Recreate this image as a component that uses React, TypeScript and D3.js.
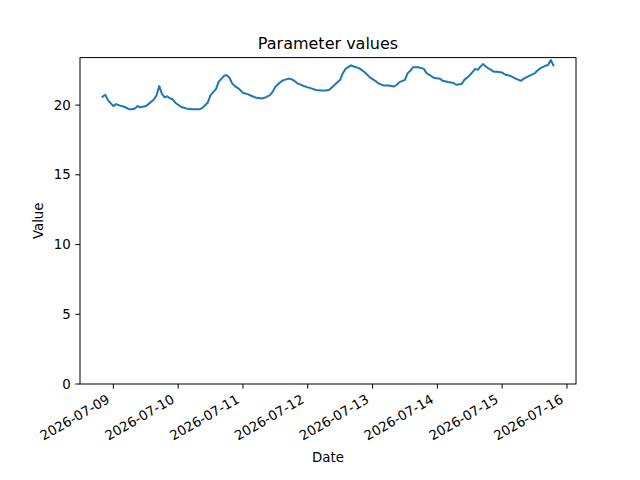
import React from 'react';
import * as d3 from 'd3';

// readings: hours after the first sample, and the value at that hour
const startTime = new Date(2026, 6, 8, 20, 0);
const hourOffsets = [
  0, 1, 2, 4, 5, 7, 8, 10, 11, 12, 13, 14, 16, 17, 19, 20, 21, 22, 23, 24,
  25, 26, 27, 29, 31, 33, 35, 36, 37, 39, 40, 42, 43, 45, 46, 47, 48, 49, 50, 51,
  52, 54, 55, 57, 59, 60, 62, 63, 64, 66, 67, 69, 70, 71, 72, 74, 76, 77, 79, 81,
  83, 84, 86, 88, 89, 90, 92, 93, 95, 97, 99, 101, 102, 104, 106, 108, 109, 110, 112, 113,
  114, 115, 117, 119, 120, 122, 123, 125, 126, 128, 130, 131, 133, 134, 136, 137, 138, 139, 140, 141,
  142, 144, 145, 146, 148, 149, 151, 153, 155, 156, 158, 160, 161, 162, 164, 165, 166, 167,
];
const values = [
  20.6, 20.74, 20.36, 19.93, 20.07, 19.93, 19.88, 19.7, 19.7, 19.76, 19.93, 19.84, 19.93, 20.07, 20.4, 20.7, 21.36, 20.8, 20.55, 20.64,
  20.48, 20.4, 20.17, 19.88, 19.76, 19.71, 19.71, 19.71, 19.8, 20.19, 20.72, 21.15, 21.67, 22.1, 22.15, 21.96, 21.56, 21.36, 21.24, 21.08,
  20.88, 20.77, 20.67, 20.52, 20.48, 20.52, 20.72, 20.95, 21.31, 21.67, 21.79, 21.9, 21.86, 21.74, 21.58, 21.41, 21.27, 21.22, 21.08, 21.05,
  21.05, 21.1, 21.46, 21.81, 22.29, 22.6, 22.85, 22.77, 22.65, 22.37, 21.99, 21.74, 21.58, 21.41, 21.41, 21.34, 21.46, 21.65, 21.81, 22.29,
  22.46, 22.72, 22.72, 22.6, 22.29, 22.05, 21.94, 21.89, 21.74, 21.65, 21.58, 21.46, 21.51, 21.81, 22.13, 22.37, 22.6, 22.53, 22.77, 22.94,
  22.75, 22.51, 22.39, 22.39, 22.34, 22.19, 22.1, 21.9, 21.74, 21.9, 22.1, 22.27, 22.46, 22.63, 22.82, 22.87, 23.23, 22.85,
];
const yTicks = [0, 5, 10, 15, 20];

const W = 640;
const H = 480;
const margin = { top: 57.6, right: 64, bottom: 96, left: 80 };
const font = 'DejaVu Sans, sans-serif';

type Point = { date: Date; value: number };

const data: Point[] = hourOffsets.map((h, i) => ({
  date: new Date(startTime.getTime() + h * 3600 * 1000),
  value: values[i],
}));

export default function App() {
  const x0 = data[0].date.getTime();
  const x1 = data[data.length - 1].date.getTime();
  const xPad = (x1 - x0) * 0.05;
  const xScale = d3
    .scaleTime()
    .domain([new Date(x0 - xPad), new Date(x1 + xPad)])
    .range([margin.left, W - margin.right]);

  const vMin = d3.min(values)!;
  const vMax = d3.max(values)!;
  const yScale = d3
    .scaleLinear()
    .domain([0, vMax + (vMax - vMin) * 0.05])
    .range([H - margin.bottom, margin.top]);

  const line = d3
    .line<Point>()
    .x(d => xScale(d.date))
    .y(d => yScale(d.value));

  const [d0, d1] = xScale.domain();
  const xTicks = d3.timeDay.range(d3.timeDay.ceil(d0), d1);
  const fmt = d3.timeFormat('%Y-%m-%d');

  const bottom = H - margin.bottom;
  const tickLen = 4.67;
  const labelH = 15.5;

  return (
    <svg width={W} height={H} style={{ display: 'block', margin: -8 }} fontFamily={font}>
      <rect width={W} height={H} fill="white" />
      <path d={line(data)!} fill="none" stroke="#1f77b4" strokeWidth={2} strokeLinejoin="round" strokeLinecap="square" />
      {/* frame */}
      <rect
        x={margin.left}
        y={margin.top}
        width={W - margin.left - margin.right}
        height={bottom - margin.top}
        fill="none"
        stroke="black"
        strokeWidth={1}
      />
      {/* y axis */}
      {yTicks.map(t => (
        <g key={t}>
          <line x1={margin.left - tickLen} x2={margin.left} y1={yScale(t)} y2={yScale(t)} stroke="black" />
          <text x={margin.left - tickLen - 4.67} y={yScale(t)} dy="0.35em" textAnchor="end" fontSize={13.33}>
            {t}
          </text>
        </g>
      ))}
      {/* x axis */}
      {xTicks.map(t => {
        const tx = xScale(t);
        return (
          <g key={t.getTime()}>
            <line x1={tx} x2={tx} y1={bottom} y2={bottom + tickLen} stroke="black" />
            <text
              transform={`translate(${tx - labelH * 0.5},${bottom + tickLen + 4.67}) rotate(-30)`}
              textAnchor="end"
              dy="0.76em"
              fontSize={13.33}
            >
              {fmt(t)}
            </text>
          </g>
        );
      })}
      <text x={W / 2 + 8} y={margin.top - 9} textAnchor="middle" fontSize={16}>
        Parameter values
      </text>
      <text x={(margin.left + W - margin.right) / 2} y={462} textAnchor="middle" fontSize={13.33}>
        Date
      </text>
      <text
        transform={`translate(43,${(margin.top + bottom) / 2}) rotate(-90)`}
        textAnchor="middle"
        fontSize={13.33}
      >
        Value
      </text>
    </svg>
  );
}
